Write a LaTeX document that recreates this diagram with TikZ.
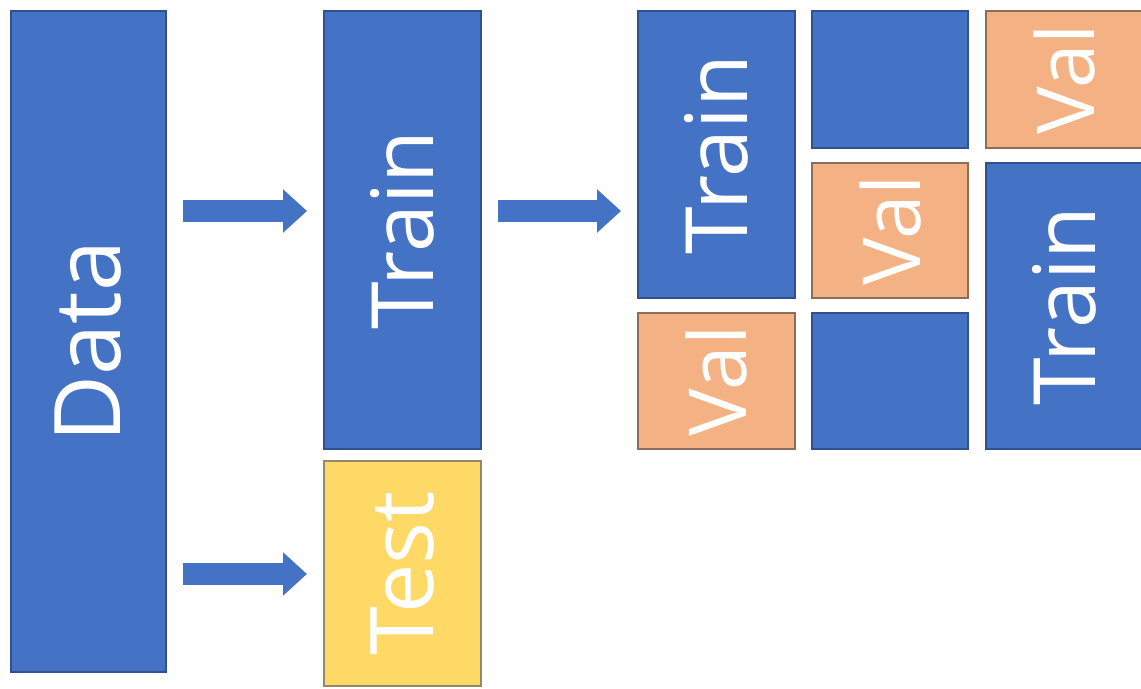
\documentclass[tikz,border=0pt]{standalone}
\usepackage{fontspec}
\setmainfont{Open Sans}
\usetikzlibrary{positioning, arrows.meta}
\definecolor{boxblue}{HTML}{4472C4}
\definecolor{edgeblue}{HTML}{2F528F}
\definecolor{valorange}{HTML}{F4B183}
\definecolor{edgeorange}{HTML}{8C6D5A}
\definecolor{testyellow}{HTML}{FFD966}
\definecolor{edgeyellow}{HTML}{8F8A6A}
\tikzstyle{Arrow} = [
%Create block arrow style:
line width = 11pt, boxblue,
-{Triangle[length = 12pt, width = 21pt]},
shorten <= 8.5pt, shorten >= 8.5pt
]

\begin{document}
\begin{tikzpicture}[x = 0.5pt, y = -0.5pt,
		box/.style = {rectangle, line width = 1pt, outer sep = 0pt, inner sep = 0pt, text = white},
		fs/.style = {font = \fontsize{#1}{#1}\selectfont},
		wh/.style 2 args = {minimum width = #1*0.5pt, minimum height = #2*0.5pt},
		trainbox/.style = {box, fs = 43, fill = boxblue, draw = edgeblue},
		valbox/.style = {box, fs = 40, fill = valorange, draw = edgeorange},
		testbox/.style = {box, fs = 44, fill = testyellow, draw = edgeyellow},
	]
	\useasboundingbox (0,0) rectangle (1141,689);
	\node[trainbox, fs = 46, wh = {155}{661}] (D) at (88.5,341.5) {\rotatebox{90}{Data}};
	\node[trainbox, wh = {157}{438}] (TR) at (402.5,230) {\rotatebox{90}{Train}};
	\node[testbox, wh = {157}{225}] (TE) at (402.5,573.5) {\rotatebox{90}{Test}};

	% folds
	\node[trainbox, wh = {157}{287}] (F1T) at (716.5,154.5) {\rotatebox{90}{Train}};
	\node[valbox, wh = {157}{136}] (F1V) at (716.5,381) {\rotatebox{90}{Val}};
	\node[trainbox, wh = {156}{137}] (F2A) at (890,79.5) {};
	\node[valbox, wh = {156}{135}] (F2V) at (890,230.5) {\rotatebox{90}{Val}};
	\node[trainbox, wh = {156}{136}] (F2B) at (890,381) {};
	\node[valbox, wh = {157}{137}] (F3V) at (1064.5,79.5) {\rotatebox{90}{Val}};
	\node[trainbox, wh = {157}{286}] (F3T) at (1064.5,306) {\rotatebox{90}{Train}};

	\coordinate (UP) at (0,211);
	\coordinate (LOW) at (0,574);
	\draw[Arrow](D.east |- UP)--(TR.west |- UP);
	\draw[Arrow](D.east |- LOW)--(TE.west |- LOW);
	\draw[Arrow](TR.east |- UP)--(F1T.west |- UP);
\end{tikzpicture}
\end{document}
